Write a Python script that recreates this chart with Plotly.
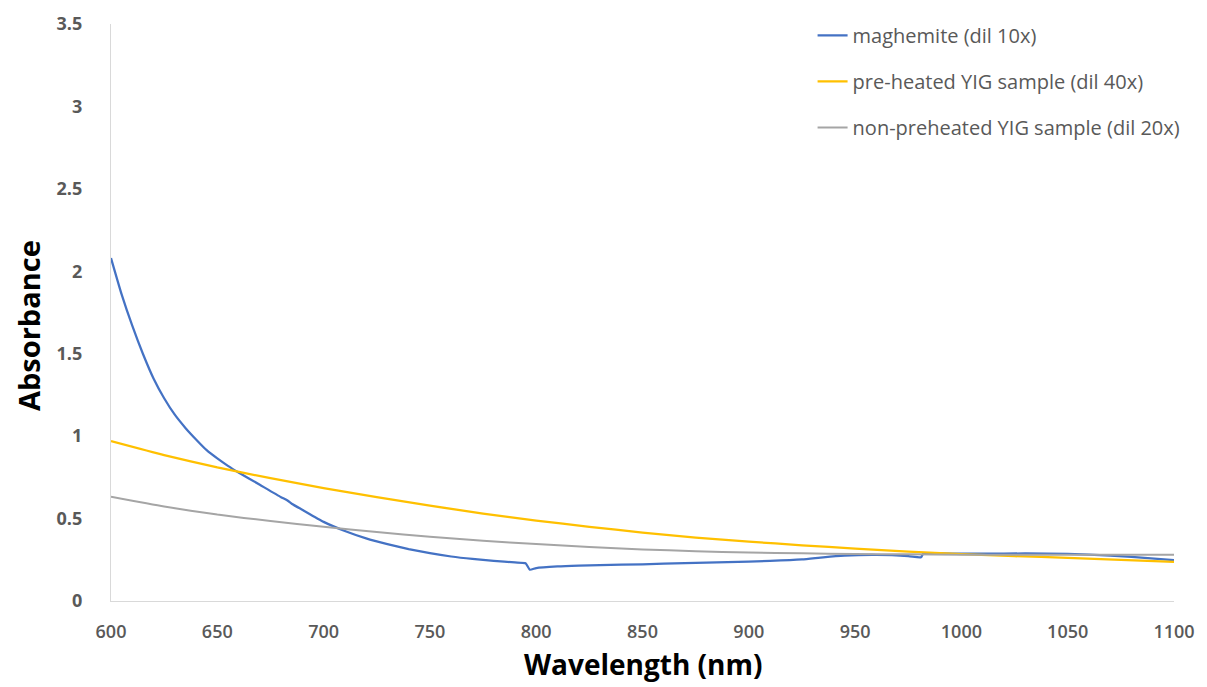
import plotly.graph_objects as go

# Maghemite (dil 10x)
mag_x = [600, 605, 610, 615, 620, 625, 630, 635, 640, 645, 650, 655, 660, 670, 680, 683, 685,
         690, 700, 710, 720, 730, 740, 750, 760, 770, 780, 790, 795, 797, 800, 810, 820,
         830, 850, 870, 890, 910, 925, 935, 945, 960, 975, 981, 982, 1000, 1020, 1040,
         1060, 1080, 1100]
mag_y = [2.08, 1.86, 1.67, 1.50, 1.35, 1.23, 1.13, 1.05, 0.98, 0.915, 0.865, 0.82, 0.78,
         0.705, 0.63, 0.61, 0.59, 0.553, 0.48, 0.425, 0.38, 0.345, 0.315, 0.29, 0.27,
         0.255, 0.243, 0.234, 0.229, 0.19, 0.20, 0.21, 0.215, 0.218, 0.222, 0.23, 0.236,
         0.243, 0.252, 0.265, 0.275, 0.279, 0.272, 0.265, 0.285, 0.287, 0.288, 0.288,
         0.282, 0.268, 0.248]

# Pre-heated YIG sample (dil 40x)
pre_x = [600, 625, 650, 675, 700, 725, 750, 775, 800, 825, 850, 875, 900, 925, 950, 975,
         1000, 1025, 1050, 1075, 1100]
pre_y = [0.97, 0.885, 0.81, 0.745, 0.685, 0.63, 0.578, 0.53, 0.488, 0.45, 0.415, 0.385,
         0.36, 0.338, 0.318, 0.30, 0.284, 0.272, 0.262, 0.25, 0.238]

# Non-preheated YIG sample (dil 20x)
non_x = [600, 625, 650, 675, 700, 725, 750, 775, 800, 825, 850, 875, 900, 925, 950, 975,
         1000, 1025, 1050, 1075, 1100]
non_y = [0.632, 0.573, 0.524, 0.485, 0.45, 0.418, 0.39, 0.365, 0.345, 0.328, 0.313, 0.302,
         0.294, 0.289, 0.285, 0.283, 0.281, 0.28, 0.28, 0.28, 0.28]

x_ticks = [600, 650, 700, 750, 800, 850, 900, 950, 1000, 1050, 1100]
y_ticks = [0, 0.5, 1, 1.5, 2, 2.5, 3, 3.5]
y_tick_text = ["0", "0.5", "1", "1.5", "2", "2.5", "3", "3.5"]

names = ["maghemite (dil 10x)", "pre-heated YIG sample (dil 40x)",
         "non-preheated YIG sample (dil 20x)"]
colors = ["#4472C4", "#FFC000", "#A5A5A5"]

FONT = "'Open Sans', Lato, sans-serif"

fig = go.Figure()
for i, (xs, ys) in enumerate([(mag_x, mag_y), (pre_x, pre_y), (non_x, non_y)]):
    fig.add_trace(go.Scatter(
        x=xs, y=ys, mode="lines", name=names[i], legendgroup=f"g{i}",
        line=dict(color=colors[i], width=2.25 if i < 2 else 2, shape="spline", smoothing=0.5),
    ))

fig.update_layout(
    width=1207, height=687,
    margin=dict(l=111, r=33, t=24, b=86),
    paper_bgcolor="white", plot_bgcolor="white",
    font=dict(family=FONT, color="#595959"),
    showlegend=True,
    legend=dict(
        x=0.66, y=1.014, xanchor="left", yanchor="top",
        font=dict(size=20, color="#595959", family=FONT),
        traceorder="grouped", tracegroupgap=17,
        itemwidth=30, bgcolor="rgba(0,0,0,0)",
    ),
    xaxis=dict(
        range=[600, 1100], tickmode="array", tickvals=x_ticks,
        ticktext=[str(v) for v in x_ticks],
        showline=True, linecolor="#D9D9D9", linewidth=1.3, showgrid=False,
        zeroline=False, ticks="", ticklabelstandoff=14,
        tickfont=dict(size=18, color="#595959", family=FONT, weight=600),
    ),
    yaxis=dict(
        range=[0, 3.5], tickmode="array", tickvals=y_ticks, ticktext=y_tick_text,
        showline=True, linecolor="#D9D9D9", linewidth=1.3, showgrid=False,
        zeroline=False, ticks="", ticklabelstandoff=24,
        tickfont=dict(size=18, color="#595959", family=FONT, weight="bold"),
    ),
    annotations=[
        dict(text="<b>Wavelength (nm)</b>", xref="paper", yref="paper",
             x=0.5, y=-0.109, xanchor="center", yanchor="middle", showarrow=False,
             font=dict(size=28, color="#000000", family=FONT)),
        dict(text="<b>Absorbance</b>", xref="paper", yref="paper",
             x=-0.078, y=0.4766, xanchor="center", yanchor="middle", showarrow=False,
             textangle=-90, font=dict(size=29, color="#000000", family=FONT)),
    ],
)

fig.write_html("out.html")
